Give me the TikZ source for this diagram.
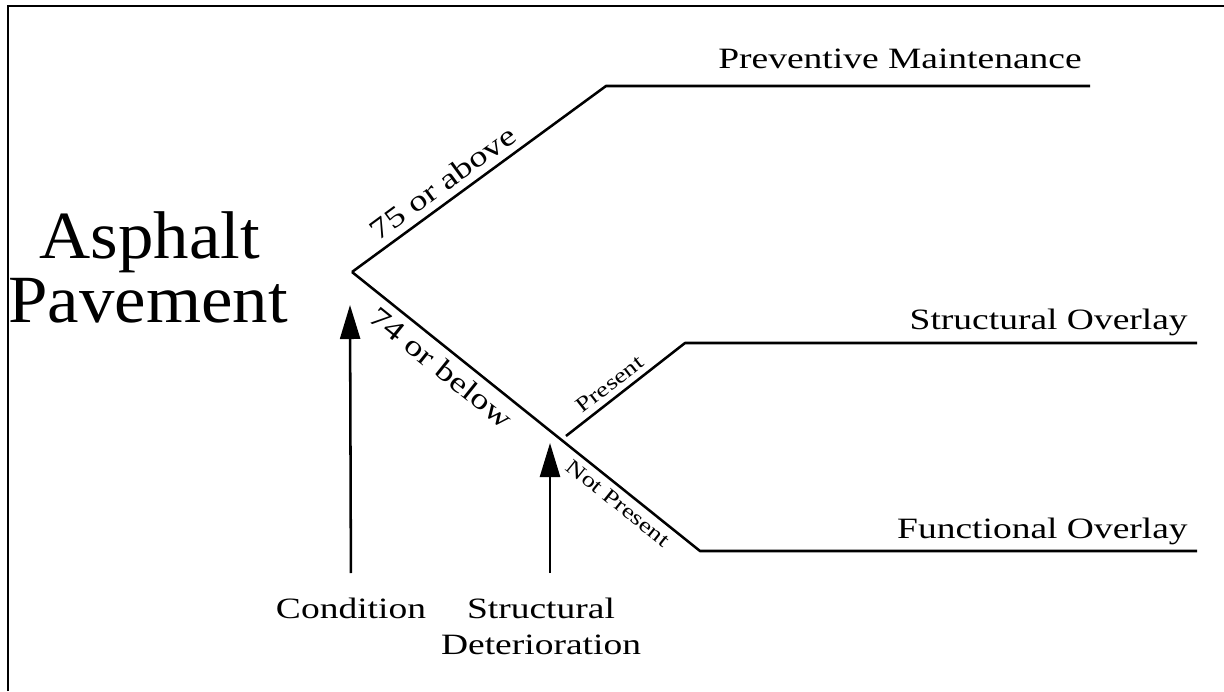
\documentclass[tikz,border=0pt]{standalone}
\usepackage{fontspec}
\setmainfont{Liberation Serif}[FakeStretch=1.05]
\newfontfamily\widefont{Liberation Serif}[FakeStretch=1.27]
\usetikzlibrary{arrows.meta,positioning}

\begin{document}
\begin{tikzpicture}[
    x=0.025cm, y=-0.025cm,
    branch/.style={line width=1.8pt, line join=round},
    arrow/.style={-{Triangle[length=0.85cm, width=0.5cm]}, line width=1.8pt},
    title/.style={anchor=base, inner sep=0pt, font=\fontsize{48}{52}\selectfont},
    outcome/.style={anchor=base east, inner sep=0pt, font=\widefont\fontsize{21}{23}\selectfont},
    factor/.style={anchor=north, align=center, inner sep=0pt, font=\widefont\fontsize{21}{25.6}\selectfont},
    grade/.style={sloped, inner sep=5pt, font=\widefont\fontsize{20.5}{22}\selectfont},
    smallgrade/.style={sloped, inner sep=4pt, font=\widefont\fontsize{15}{16}\selectfont}
  ]
    \useasboundingbox (0,0) rectangle (1224,691);
    \draw[line width=1.5pt] (8,691) -- (8,6) -- (1224,6);

    \coordinate (root) at (352,272);
    \coordinate (upbend) at (606,86);
    \coordinate (upend) at (1090,86);
    \coordinate (lowbend) at (700,551);
    \coordinate (lowend) at (1197,551);
    \coordinate (presstart) at (566,436);
    \coordinate (presbend) at (685,343);
    \coordinate (presend) at (1197,343);
    \coordinate (condtip) at (350,305);
    \coordinate (dettip) at (550,443);

    \node[title] (asphalt) at (150,258) {Asphalt};
    \node[title] (pavement) at (148,322) {Pavement};
    \node[outcome] (pm) at (1082,68) {Preventive Maintenance};
    \node[outcome] (so) at (1188,329) {Structural Overlay};
    \node[outcome] (fo) at (1188,538) {Functional Overlay};
    \node[factor] (cond) at (351,598) {Condition};
    \node[factor] (det) at (541,598) {Structural\\Deterioration};

    \draw[branch] (root) -- node[grade, pos=0.4, above] (hilbl) {75 or above} (upbend) -- (upend);
    \draw[branch] (root) -- node[grade, pos=0.29, below] (lolbl) {74 or below}
      node[smallgrade, pos=0.79, below] (nplbl) {Not Present} (lowbend) -- (lowend);
    \draw[branch] (presstart) -- node[smallgrade, pos=0.44, above] (plbl) {Present} (presbend) -- (presend);

    \draw[arrow, shorten <=0.625cm] (cond.north) -- (condtip);
    \draw[arrow, shorten <=0.625cm] (det.north -| dettip) -- (dettip);
  \end{tikzpicture}
\end{document}
